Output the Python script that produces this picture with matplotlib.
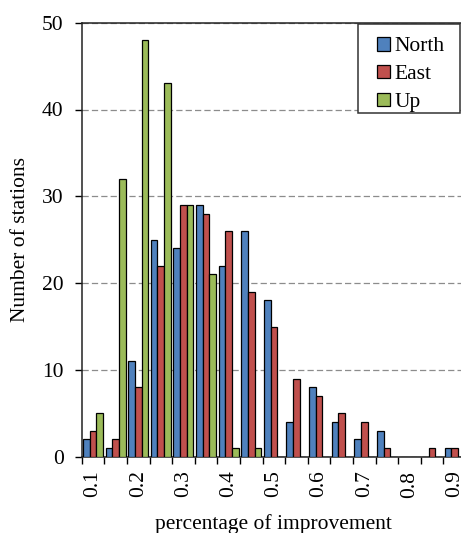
import matplotlib
matplotlib.use("Agg")
import matplotlib.pyplot as plt
import numpy as np
from matplotlib.ticker import FixedLocator
from matplotlib.patches import Rectangle

plt.rcParams['font.family'] = ['Liberation Serif', 'DejaVu Serif']

bins = ["0.1", "0.15", "0.2", "0.25", "0.3", "0.35", "0.4", "0.45", "0.5",
        "0.55", "0.6", "0.65", "0.7", "0.75", "0.8", "0.85", "0.9"]
north = [2, 1, 11, 25, 24, 29, 22, 26, 18, 4, 8, 4, 2, 3, 0, 0, 1]
east = [3, 2, 8, 22, 29, 28, 26, 19, 15, 9, 7, 5, 4, 1, 0, 1, 1]
up = [5, 32, 48, 43, 29, 21, 1, 1, 0, 0, 0, 0, 0, 0, 0, 0, 0]
series_names = ["North", "East", "Up"]
colors = ["#4F81BD", "#C0504D", "#9BBB59"]

W, H = 461, 533
fig = plt.figure(figsize=(W / 100, H / 100), dpi=100)
left, right, top, bottom = 81.7, 466.0, 22.7, 456.7
ax = fig.add_axes([left / W, (H - bottom) / H, (right - left) / W, (bottom - top) / H])

x = np.arange(len(bins))
bw = 0.296
for i, (vals, name, c) in enumerate(zip([north, east, up], series_names, colors)):
    ax.bar(x + (i - 1) * bw, vals, width=bw, color=c, edgecolor="black",
           linewidth=0.9, label=name, zorder=3)

ax.set_xlim(-0.5, len(bins) - 0.5)
ax.set_ylim(0, 50)
ax.set_yticks(range(0, 51, 10))
ax.yaxis.grid(True, linestyle=(0, (5, 2.5)), color="#8c8c8c", linewidth=0.9, zorder=0)
ax.set_axisbelow(True)

ax.set_xticks(x[::2])
ax.set_xticklabels(bins[::2], rotation=90)
ax.xaxis.set_minor_locator(FixedLocator(np.arange(-0.5, len(bins), 1.0)))
ax.tick_params(axis="x", which="major", length=0, pad=10, labelsize=15.5)
ax.tick_params(axis="x", which="minor", length=5, width=1, direction="out")
ax.tick_params(axis="y", which="major", length=5, width=1, direction="out", pad=8, labelsize=15.5)

for s in ["left", "bottom", "top"]:
    ax.spines[s].set_linewidth(1.1)
    ax.spines[s].set_color("#222222")
ax.spines["right"].set_visible(False)

ax.set_ylabel("Number of stations", fontsize=15.5, labelpad=9)
ax.set_xlabel("percentage of improvement", fontsize=15.5, labelpad=12)

leg = ax.legend(loc="upper left", bbox_to_anchor=(377 / W, 1 - 37 / H),
                bbox_transform=fig.transFigure, borderaxespad=0,
                fontsize=15.5, frameon=False,
                handlelength=0.6, handleheight=0.6, handletextpad=0.2,
                labelspacing=0.39, borderpad=0)
leg.set_zorder(20)
# legend frame box
fx0, fx1, fy0, fy1 = 358, 460, 24, 113
frame = Rectangle((fx0 / W, 1 - fy1 / H), (fx1 - fx0) / W, (fy1 - fy0) / H,
                  transform=fig.transFigure, facecolor="white",
                  edgecolor="#333333", linewidth=1.1, zorder=10, clip_on=False)
ax.add_artist(frame)

fig.savefig("out.png", dpi=100)
